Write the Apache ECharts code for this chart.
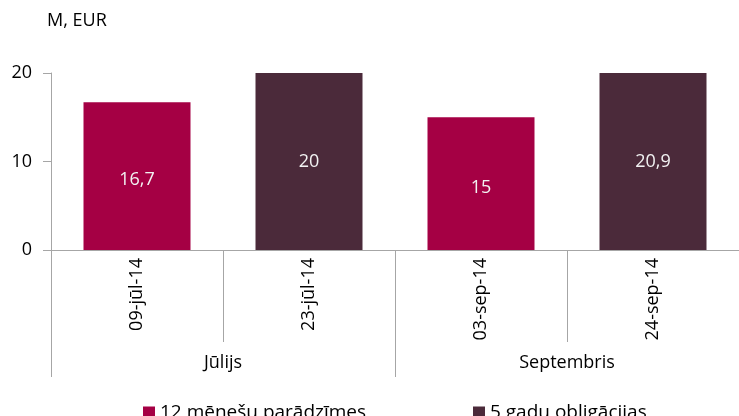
<!DOCTYPE html>
<html>
<head>
<meta charset="utf-8">
<script src="https://cdn.jsdelivr.net/npm/echarts@6/dist/echarts.min.js"></script>
<style>
  html, body { margin: 0; padding: 0; background: #fff; }
  #chart { width: 739px; height: 416px; }
</style>
</head>
<body>
<div id="chart"></div>
<script>
const dates = ['09-jūl-14', '23-jūl-14', '03-sep-14', '24-sep-14']
const months = ['Jūlijs', 'Septembris']
const bills = [16.7, '-', 15, '-']
const bonds = ['-', 20, '-', 20.9]
const yTicks = [0, 10, 20]

const font = '"Open Sans", "Noto Sans", sans-serif'
const grey = '#a6a6a6'
const fmt = p => String(p.value).replace('.', ',')
const legendText = { fontFamily: font, fontSize: 19, color: '#000' }

const chart = echarts.init(document.getElementById('chart'))
chart.setOption({
  animation: false,
  backgroundColor: '#fff',
  textStyle: { fontFamily: font },
  title: {
    text: 'M, EUR',
    left: 42,
    top: 7,
    textStyle: { fontFamily: font, fontSize: 18, fontWeight: 'normal', color: '#000' },
  },
  legend: [
    {
      data: ['12 mēnešu parādzīmes'],
      left: 138, top: 398, itemWidth: 12, itemHeight: 12, icon: 'rect',
      textStyle: legendText,
    },
    {
      data: ['5 gadu obligācijas'],
      left: 468, top: 398, itemWidth: 12, itemHeight: 12, icon: 'rect',
      textStyle: legendText,
    },
  ],
  grid: { left: 51, right: 0, top: 73, bottom: 166, containLabel: false },
  xAxis: [
    {
      type: 'category',
      data: dates,
      axisLine: { lineStyle: { color: grey } },
      axisTick: { show: true, interval: 0, length: 92, lineStyle: { color: grey } },
      axisLabel: { rotate: 90, margin: 8, fontFamily: font, fontSize: 18, color: '#000' },
    },
    {
      type: 'category',
      data: months,
      position: 'bottom',
      axisLine: { show: false },
      axisTick: { show: true, interval: 0, length: 127, lineStyle: { color: grey } },
      axisLabel: { margin: 104, fontFamily: font, fontSize: 18, color: '#000' },
    },
  ],
  yAxis: {
    type: 'value',
    min: yTicks[0],
    max: yTicks[yTicks.length - 1],
    interval: 10,
    axisLine: { show: true, lineStyle: { color: grey } },
    axisTick: { show: true, length: 8, lineStyle: { color: grey } },
    splitLine: { show: false },
    axisLabel: { margin: 19, fontFamily: font, fontSize: 18, color: '#000' },
  },
  series: [
    {
      name: '12 mēnešu parādzīmes',
      type: 'bar',
      data: bills,
      barWidth: 107,
      barGap: '-100%',
      itemStyle: { color: '#a50044' },
      label: { show: true, position: 'inside', offset: [0, 4], formatter: fmt, color: '#f2f2f2', fontFamily: font, fontSize: 18 },
    },
    {
      name: '5 gadu obligācijas',
      type: 'bar',
      data: bonds,
      barWidth: 107,
      barGap: '-100%',
      itemStyle: { color: '#4b2a3a' },
      label: { show: true, position: 'inside', formatter: fmt, color: '#f2f2f2', fontFamily: font, fontSize: 18 },
    },
  ],
})
</script>
</body>
</html>
